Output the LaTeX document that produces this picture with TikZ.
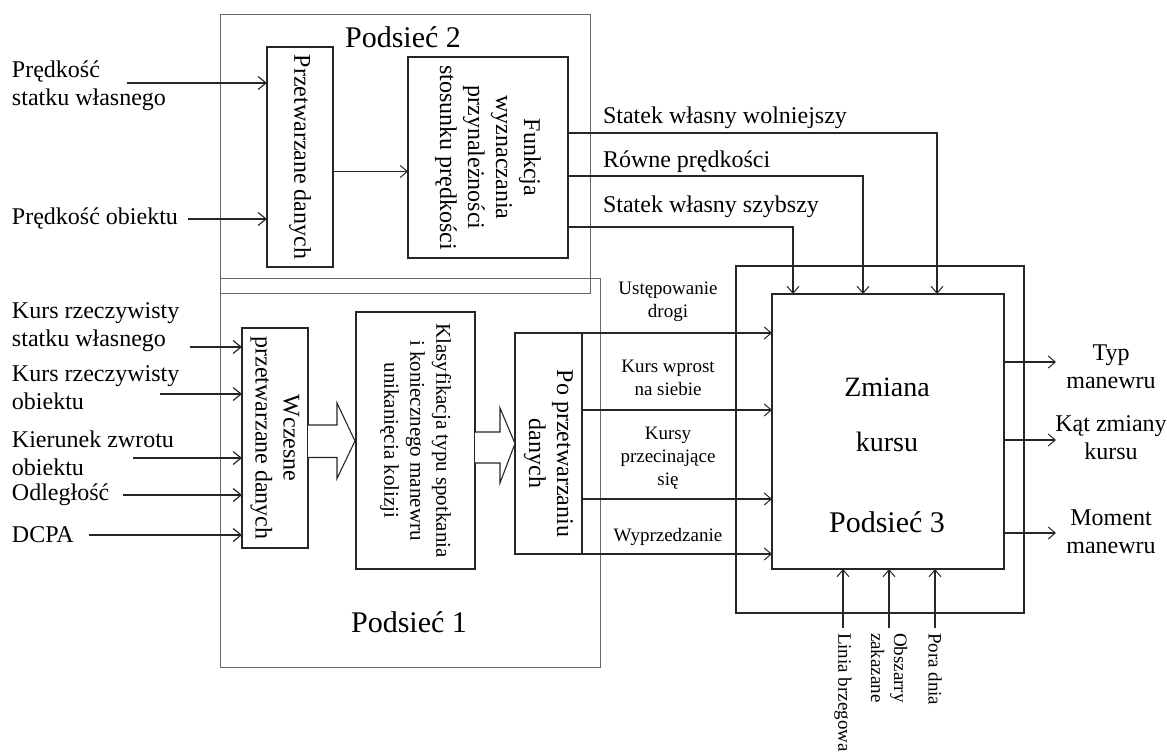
\documentclass[tikz,border=0pt]{standalone}
\usepackage{fontspec}
\setmainfont{Liberation Serif}
\usetikzlibrary{arrows.meta,calc}
\begin{document}
\begin{tikzpicture}[x=1pt,y=-1pt,
  every node/.style={inner sep=0pt,outer sep=0pt},
  txt/.style={font=\fontsize{24}{28}\selectfont},
  smalltxt/.style={font=\fontsize{19}{23}\selectfont},
  bigtxt/.style={font=\fontsize{30}{34}\selectfont},
  frame/.style={draw=black!60,line width=1pt},
  blockbox/.style={draw=black!85,line width=1.1pt},
  arr/.style={draw=black!85,line width=1.1pt,-{Straight Barb[length=7pt,width=12pt,line width=1pt]}},
  inarr/.style={draw=black!85,line width=2pt,-{Straight Barb[length=8pt,width=13pt,line width=1.2pt]}},
  hollow/.style={draw=black!85,line width=1.1pt,line join=miter,fill=white}
]
\useasboundingbox (0,0) rectangle (1167,752);

% --- subnet frames
\draw[frame] (220,15) rectangle (590,293);
\draw[frame] (220,278) rectangle (600,667);
\node[bigtxt] (t2) at (403,37) {Podsieć 2};
\node[bigtxt] (t1) at (409,622) {Podsieć 1};

% --- Podsieć 2 blocks
\node[blockbox,minimum width=66pt,minimum height=220pt] (prz) at (300,157) {};
\node[txt,rotate=-90] (przt) at (prz) {Przetwarzane danych};
\node[blockbox,minimum width=160pt,minimum height=201pt] (fun) at (488,157.5) {};
\node[txt,rotate=-90,align=center] (funt) at (fun) {Funkcja\\wyznaczania\\przynależności\\stosunku prędkości};

\coordinate (i1) at (127,83);
\coordinate (i2) at (188,219);
\node[txt,anchor=west,align=left] (l1) at (12,86) {Prędkość\\statku własnego};
\node[txt,anchor=west] (l2) at (12,219) {Prędkość obiektu};
\draw[inarr] (i1) -- (i1 -| prz.west);
\draw[inarr] (i2) -- (i2 -| prz.west);
\draw[arr] (prz.east |- fun.west) ++(0,14) coordinate (pf) (prz.east |- pf) -- (fun.west |- pf);

% --- Podsieć 1 blocks
\node[blockbox,minimum width=66pt,minimum height=220pt] (wcz) at (275,438) {};
\node[txt,rotate=-90,align=center] (wczt) at (wcz) {Wczesne\\przetwarzane danych};
\node[blockbox,minimum width=119pt,minimum height=257pt] (kl) at (415.5,440.5) {};
\node[font=\fontsize{21}{26}\selectfont,rotate=-90,align=center] (klt) at (kl) {Klasyfikacja typu spotkania\\i koniecznego manewru\\unikanięcia kolizji};
\node[blockbox,minimum width=67pt,minimum height=221pt] (po) at (548.5,443.5) {};
\node[txt,rotate=-90,align=center] (pot) at ($(po)+(0,10)$) {Po przetwarzaniu\\danych};

\node[txt,anchor=west,align=left] (k1l) at (12,327) {Kurs rzeczywisty\\statku własnego};
\node[txt,anchor=west,align=left] (k2l) at (12,388) {Kurs rzeczywisty\\obiektu};
\node[txt,anchor=west,align=left] (k3l) at (12,453) {Kierunek zwrotu\\obiektu};
\node[txt,anchor=west] (k4l) at (12,495) {Odległość};
\node[txt,anchor=west] (k5l) at (12,535) {DCPA};
\coordinate (k1) at (190,347);
\coordinate (k2) at (160,394);
\coordinate (k3) at (133,458);
\coordinate (k4) at (123,495);
\coordinate (k5) at (89,535);
\foreach \c in {k1,k2,k3,k4,k5}{\draw[inarr] (\c) -- (\c -| wcz.west);}

% hollow block arrows between the processing stages
\draw[hollow] ($(wcz.east)+(0,-13)$) -- ++(29,0) -- ++(0,-22) -- ($(kl.west)+(-1,0.5)$)
  -- ++(-18,37.5) -- ++(0,-21) -- ++(-29,0);
\draw[hollow] ($(kl.east)+(0,-8.5)$) -- ++(25,0) -- ++(0,-24) -- (po.west)
  -- ++(-15,39.5) -- ++(0,-20) -- ++(-25,0);

% --- Podsieć 3
\draw[draw=black!85,line width=1.1pt] (736,266) rectangle (1024,613);
\node[draw=black!85,line width=1.4pt,minimum width=232pt,minimum height=275pt] (zm) at (888,431.5) {};
\node[font=\fontsize{28}{32}\selectfont] (zm1) at (887,387) {Zmiana};
\node[font=\fontsize{28}{32}\selectfont] (zm2) at (887,442) {kursu};
\node[bigtxt] (zm3) at (887,522) {Podsieć 3};

% speed-ratio outputs into Zmiana kursu
\draw[arr] ($(fun.north east)+(0,76)$) -| ($(zm.north east)+(-67,0)$);
\draw[arr] ($(fun.north east)+(0,119)$) -| ($(zm.north east)+(-141,0)$);
\draw[arr] ($(fun.north east)+(0,170)$) -| ($(zm.north east)+(-211,0)$);
\node[txt,anchor=west] (s1) at (603,118) {Statek własny wolniejszy};
\node[txt,anchor=west] (s2) at (603,162) {Równe prędkości};
\node[txt,anchor=west] (s3) at (603,207) {Statek własny szybszy};

% encounter-type outputs
\draw[arr] (po.north east) -- (po.north east -| zm.west);
\draw[arr] ($(po.north east)+(0,77)$) -- ($(po.north east -| zm.west)+(0,77)$);
\draw[arr] ($(po.north east)+(0,166)$) -- ($(po.north east -| zm.west)+(0,166)$);
\draw[arr] (po.south east) -- (po.south east -| zm.west);
\node[smalltxt,align=center] (e1) at (668,302) {Ustępowanie\\drogi};
\node[smalltxt,align=center] (e2) at (668,378) {Kurs wprost\\na siebie};
\node[smalltxt,align=center] (e3) at (668,458) {Kursy\\przecinające\\się};
\node[smalltxt] (e4) at (668,537) {Wyprzedzanie};

% outputs
\coordinate (o1) at (1056,362);
\coordinate (o2) at (1056,440);
\coordinate (o3) at (1056,533);
\foreach \c in {o1,o2,o3}{\draw[arr] (\c -| zm.east) -- (\c);}
\node[txt,align=center] (r1) at (1111,367) {Typ\\manewru};
\node[txt,align=center] (r2) at (1111,438) {Kąt zmiany\\kursu};
\node[txt,align=center] (r3) at (1111,532) {Moment\\manewru};

% environmental inputs from below
\node[smalltxt,rotate=-90,anchor=west,inner xsep=5pt] (b1) at (843,628) {Linia brzegowa};
\node[smalltxt,rotate=-90,anchor=west,align=center,inner xsep=5pt] (b2) at (889,628) {Obszarry\\zakazane};
\node[smalltxt,rotate=-90,anchor=west,inner xsep=5pt] (b3) at (935,628) {Pora dnia};
\foreach \c in {b1,b2,b3}{\draw[arr] (\c.west) -- (\c.west |- zm.south);}
\end{tikzpicture}
\end{document}
